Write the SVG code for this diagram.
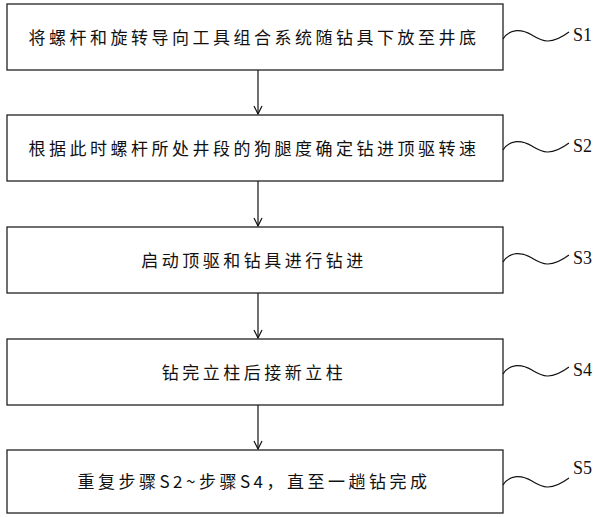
<svg xmlns="http://www.w3.org/2000/svg" width="600" height="517" viewBox="0 0 600 517">
<defs><style>
.b{fill:#fff;stroke:#222;stroke-width:1.3}
.t{font-family:"Noto Sans CJK SC",sans-serif;font-size:17px;letter-spacing:3.5px;fill:#111;text-anchor:middle}
.l{font-family:"Liberation Serif",serif;font-size:18px;fill:#111}
.w{fill:none;stroke:#111;stroke-width:1.2}
.a{stroke:#111;stroke-width:1.2;fill:none}
</style>
<marker id="ar" markerWidth="10" markerHeight="10" refX="9" refY="5" orient="auto" markerUnits="userSpaceOnUse"><path d="M1,1 L9,5 L1,9" fill="none" stroke="#111" stroke-width="1.2"/></marker>
</defs>
<rect width="600" height="517" fill="#fff"/>
<g id="connectors">
<line class="a" x1="258" y1="70" x2="258" y2="114" marker-end="url(#ar)"/>
<line class="a" x1="258" y1="181" x2="258" y2="226" marker-end="url(#ar)"/>
<line class="a" x1="258" y1="293" x2="258" y2="338" marker-end="url(#ar)"/>
<line class="a" x1="258" y1="405" x2="258" y2="449" marker-end="url(#ar)"/>
</g>
<g id="n1"><rect class="b" x="7" y="4" width="496" height="66"/><text class="t" x="254" y="44">将螺杆和旋转导向工具组合系统随钻具下放至井底</text><path class="w" d="M503,39 C510,28 522,29 532,35 S550,46 569,32"/><text class="l" x="573" y="41">S1</text></g>
<g id="n2"><rect class="b" x="7" y="115" width="496" height="66"/><text class="t" x="254" y="155">根据此时螺杆所处井段的狗腿度确定钻进顶驱转速</text><path class="w" d="M503,150 C510,139 522,140 532,146 S550,157 569,143"/><text class="l" x="573" y="152">S2</text></g>
<g id="n3"><rect class="b" x="7" y="227" width="496" height="66"/><text class="t" x="254" y="267">启动顶驱和钻具进行钻进</text><path class="w" d="M503,262 C510,251 522,252 532,258 S550,269 569,255"/><text class="l" x="573" y="264">S3</text></g>
<g id="n4"><rect class="b" x="7" y="339" width="496" height="66"/><text class="t" x="254" y="379">钻完立柱后接新立柱</text><path class="w" d="M503,374 C510,363 522,364 532,370 S550,381 569,367"/><text class="l" x="573" y="376">S4</text></g>
<g id="n5"><rect class="b" x="7" y="450" width="496" height="63"/><text class="t" x="254" y="488">重复步骤S2~步骤S4，直至一趟钻完成</text><path class="w" d="M503,485 C510,474 522,475 532,481 S550,492 569,478"/><text class="l" x="573" y="474">S5</text></g>
</svg>
